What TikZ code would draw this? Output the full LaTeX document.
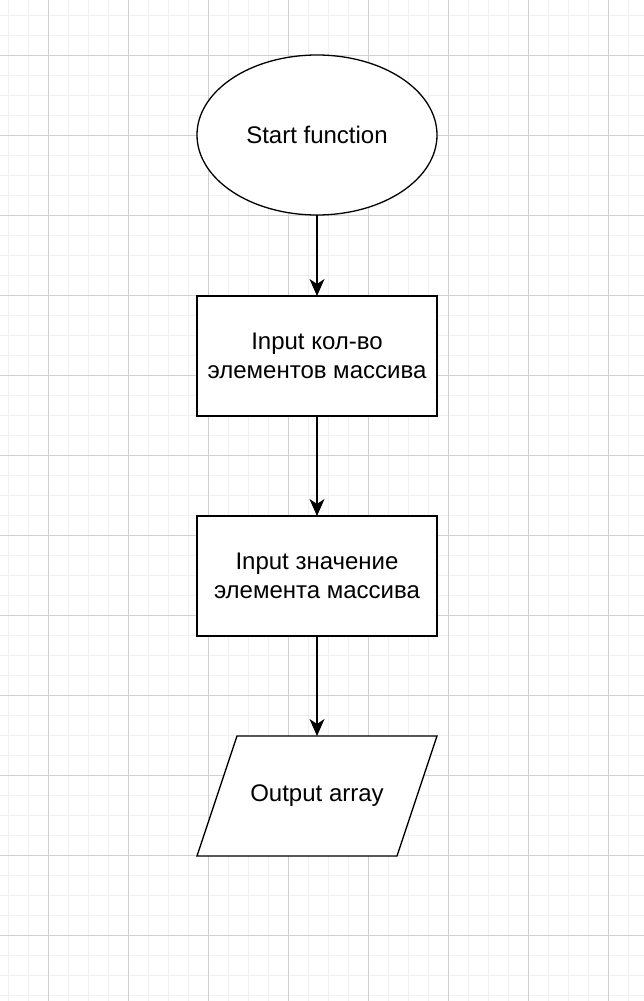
\documentclass[tikz,border=0pt]{standalone}
\usepackage{fontspec}
\setmainfont{Liberation Sans}
\usetikzlibrary{shapes.geometric,arrows.meta}
\definecolor{minorgrid}{RGB}{240,240,240}
\definecolor{majorgrid}{RGB}{208,208,208}
\pgfdeclarelayer{gridlayer}
\pgfdeclarelayer{shapelayer}
\pgfsetlayers{gridlayer,shapelayer,main}
\tikzset{
  minorline/.style={draw=minorgrid,line width=1pt},
  majorline/.style={draw=majorgrid,line width=1pt},
  shapebox/.style={draw=black,fill=white,line width=1.3pt,outer sep=0pt,inner sep=0pt,align=center,
    font=\fontsize{24}{28.8}\selectfont},
  startshape/.style={shapebox,ellipse,minimum width=240pt,minimum height=160pt},
  procshape/.style={shapebox,rectangle,minimum width=240pt,minimum height=120pt},
  ioshape/.style={shapebox,draw=none,fill=none,rectangle,minimum width=240pt,minimum height=120pt},
  ioborder/.style={draw=black,fill=white,line width=1.3pt,line join=miter},
  flowarrow/.style={draw=black,line width=1.3pt,-{Stealth[length=17pt,width=15pt,inset=5pt]}}
}
\begin{document}
\begin{tikzpicture}[x=1pt,y=-1pt]
\begin{pgfonlayer}{gridlayer}
\useasboundingbox[fill=white] (0,0) rectangle (644,1001);
\foreach \x in {8,28,...,644} \draw[minorline] (\x,0) -- (\x,1001);
\foreach \y in {15,35,...,1001} \draw[minorline] (0,\y) -- (644,\y);
\foreach \x in {48,128,...,644} \draw[majorline] (\x,0) -- (\x,1001);
\foreach \y in {55,135,...,1001} \draw[majorline] (0,\y) -- (644,\y);
\end{pgfonlayer}
% nodes
\node[startshape] (start) at (317,135) {Start function};
\node[procshape] (count) at (317,356) {Input кол-во\\элементов массива};
\node[procshape] (value) at (317,576) {Input значение\\элемента массива};
\node[ioshape] (out) at (317,796) {Output array};
\begin{pgfonlayer}{shapelayer}
\draw[ioborder] ([xshift=40pt]out.north west) -- (out.north east) -- ([xshift=-40pt]out.south east) -- (out.south west) -- cycle;
\end{pgfonlayer}
% connectors
\draw[flowarrow] (start.south) -- (count.north);
\draw[flowarrow] (count.south) -- (value.north);
\draw[flowarrow] (value.south) -- (out.north);
\end{tikzpicture}
\end{document}
